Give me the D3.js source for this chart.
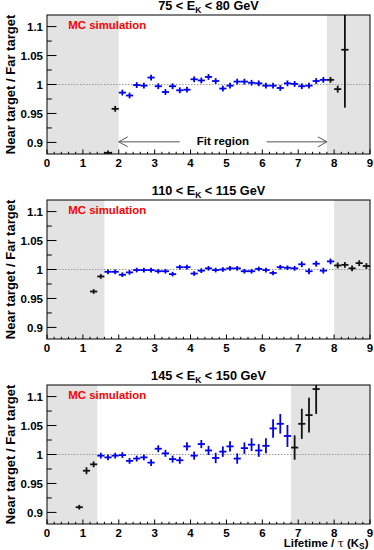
<!DOCTYPE html>
<html><head><meta charset="utf-8">
<script src="https://cdn.jsdelivr.net/npm/d3@7"></script>
<style>body{margin:0;background:#fff}svg{display:block}</style>
</head><body>
<script>
// ---------- data ----------
const xTicks = [0,1,2,3,4,5,6,7,8,9];
const yTicks = [0.9,0.95,1,1.05,1.1];
const yTickLabels = ["0.9","0.95","1","1.05","1.1"];
const eLow = [75,110,145];
const eHigh = [80,115,150];
const fitLo = [2.0,1.6,1.4];
const fitHi = [7.8,8.0,6.8];

const p1X = [1.7,1.9,2.1,2.3,2.5,2.7,2.9,3.1,3.3,3.5,3.7,3.9,4.1,4.3,4.5,4.7,4.9,5.1,5.3,5.5,5.7,5.9,6.1,6.3,6.5,6.7,6.9,7.1,7.3,7.5,7.7,7.9,8.1,8.3];
const p1Y = [0.882,0.958,0.986,0.981,0.999,0.998,1.012,0.997,0.987,0.997,0.990,0.991,1.009,1.007,1.013,1.006,0.993,0.998,1.005,1.005,1.003,1.002,0.998,0.998,0.994,1.002,1.001,0.997,0.998,1.006,1.008,1.008,0.992,1.060];
const p1E = [0.004,0.005,0.005,0.005,0.005,0.005,0.005,0.005,0.005,0.005,0.005,0.005,0.005,0.005,0.005,0.005,0.005,0.005,0.005,0.005,0.005,0.005,0.005,0.005,0.005,0.005,0.005,0.005,0.005,0.005,0.005,0.005,0.006,0.100];

const p2X = [1.3,1.5,1.7,1.9,2.1,2.3,2.5,2.7,2.9,3.1,3.3,3.5,3.7,3.9,4.1,4.3,4.5,4.7,4.9,5.1,5.3,5.5,5.7,5.9,6.1,6.3,6.5,6.7,6.9,7.1,7.3,7.5,7.7,7.9,8.1,8.3,8.5,8.7,8.9];
const p2Y = [0.962,0.988,0.996,0.996,0.991,0.995,0.999,0.999,0.999,0.997,0.997,0.992,1.004,1.004,0.993,0.998,1.002,0.999,1.000,1.002,1.002,0.997,0.997,1.001,0.999,0.994,1.004,1.003,1.002,1.009,0.997,1.010,0.998,1.014,1.007,1.008,1.002,1.011,1.006];
const p2E = [0.004,0.004,0.004,0.004,0.004,0.004,0.004,0.004,0.004,0.004,0.004,0.004,0.004,0.004,0.004,0.004,0.004,0.004,0.004,0.004,0.004,0.004,0.004,0.004,0.004,0.004,0.004,0.004,0.004,0.005,0.005,0.005,0.005,0.005,0.005,0.005,0.005,0.005,0.005];

const p3X = [0.9,1.1,1.3,1.5,1.7,1.9,2.1,2.3,2.5,2.7,2.9,3.1,3.3,3.5,3.7,3.9,4.1,4.3,4.5,4.7,4.9,5.1,5.3,5.5,5.7,5.9,6.1,6.3,6.5,6.7,6.9,7.1,7.3,7.5];
const p3Y = [0.909,0.972,0.983,0.998,0.995,0.998,0.999,0.989,0.993,0.995,0.986,1.010,1.002,0.992,0.990,1.014,0.998,1.018,1.007,0.994,1.005,1.014,0.993,1.011,1.017,1.007,1.015,1.045,1.053,1.032,1.012,1.053,1.068,1.113];
const p3E = [0.004,0.006,0.005,0.005,0.005,0.005,0.005,0.005,0.005,0.005,0.006,0.006,0.006,0.006,0.006,0.007,0.007,0.007,0.008,0.009,0.009,0.009,0.009,0.010,0.011,0.011,0.013,0.016,0.017,0.019,0.021,0.026,0.030,0.043];

const panelsX = [p1X,p2X,p3X];
const panelsY = [p1Y,p2Y,p3Y];
const panelsE = [p1E,p2E,p3E];
const binHalf = 0.1;

// ---------- layout ----------
const W = 374, H = 550;
const FL = 47, FR = 370, FH = 139;
const tops = [15,200,385];
const FONT = "'Liberation Sans', Arial, Helvetica, sans-serif";

const svg = d3.select("body").append("svg").attr("width",W).attr("height",H)
  .style("font-family",FONT);

const x = d3.scaleLinear().domain([0,9]).range([FL,FR]);

tops.forEach((top,i)=>{
  const y = d3.scaleLinear().domain([0.88,1.12]).range([top+FH, top]);
  const g = svg.append("g");
  const clipId = "clip"+i;
  g.append("clipPath").attr("id",clipId).append("rect")
    .attr("x",FL).attr("y",top).attr("width",FR-FL).attr("height",FH);

  // shaded regions
  [[0,fitLo[i]],[fitHi[i],9]].forEach(r=>{
    g.append("rect").attr("x",x(r[0])).attr("y",top)
      .attr("width",x(r[1])-x(r[0])).attr("height",FH)
      .attr("fill","#e3e3e3");
  });

  // dotted reference line
  g.append("line").attr("x1",x(0)).attr("x2",x(9)).attr("y1",y(1)).attr("y2",y(1))
    .attr("stroke","#999").attr("stroke-width",1).attr("stroke-dasharray","1.5,1.5");

  // points
  const data = panelsX[i].map((xv,k)=>({x:xv,y:panelsY[i][k],e:panelsE[i][k]}));
  const pts = g.append("g").attr("clip-path",`url(#${clipId})`);
  const col = d => (d.x>fitLo[i] && d.x<fitHi[i]) ? "#0000ee" : "#111";
  pts.selectAll("line.h").data(data).enter().append("line")
    .attr("x1",d=>x(d.x-binHalf)).attr("x2",d=>x(d.x+binHalf))
    .attr("y1",d=>y(d.y)).attr("y2",d=>y(d.y))
    .attr("stroke",col).attr("stroke-width",1.8);
  pts.selectAll("line.v").data(data).enter().append("line")
    .attr("x1",d=>x(d.x)).attr("x2",d=>x(d.x))
    .attr("y1",d=>y(d.y-d.e)).attr("y2",d=>y(d.y+d.e))
    .attr("stroke",col).attr("stroke-width",1.8);

  // frame
  g.append("rect").attr("x",FL).attr("y",top).attr("width",FR-FL).attr("height",FH)
    .attr("fill","none").attr("stroke","#000").attr("stroke-width",1);

  // y axis ticks (inward)
  const yMinor = d3.range(0.875,1.1201,0.025).filter(v=>v>=0.88-1e-9);
  yMinor.forEach(v=>{
    const major = yTicks.some(t=>Math.abs(t-v)<1e-6);
    g.append("line").attr("x1",FL).attr("x2",FL+(major?9.5:4.8))
      .attr("y1",y(v)).attr("y2",y(v)).attr("stroke","#000").attr("stroke-width",1);
  });
  g.selectAll("text.yt").data(yTicks).enter().append("text")
    .attr("x",43).attr("y",d=>y(d)).attr("dy","0.36em")
    .attr("text-anchor","end").attr("font-size",11.5).attr("font-weight","bold")
    .text((d,k)=>yTickLabels[k]);

  // x axis ticks
  d3.range(0,9.001,0.2).forEach(v=>{
    const major = Math.abs(v-Math.round(v))<1e-6;
    g.append("line").attr("x1",x(v)).attr("x2",x(v))
      .attr("y1",top+FH).attr("y2",top+FH-(major?4.5:2.2))
      .attr("stroke","#000").attr("stroke-width",1);
  });
  g.selectAll("text.xt").data(xTicks).enter().append("text")
    .attr("x",d=>x(d)).attr("y",top+FH+13.2)
    .attr("text-anchor","middle").attr("font-size",11.5).attr("font-weight","bold")
    .text(d=>d);

  // title
  const t = g.append("text").attr("x",(FL+FR)/2).attr("y",top-4.6)
    .attr("text-anchor","middle").attr("font-size",12.7).attr("font-weight","bold");
  t.append("tspan").text(`${eLow[i]} < E`);
  t.append("tspan").attr("font-size",8.5).attr("dy",3).text("K");
  t.append("tspan").attr("dy",-3).text(` < ${eHigh[i]} GeV`);

  // MC simulation
  g.append("text").attr("x",68.3).attr("y",top+14.3)
    .attr("font-size",11.4).attr("font-weight","bold").attr("fill","#ff0000")
    .text("MC simulation");

  // y axis title
  g.append("text").attr("transform",`translate(14.5,${top+FH/2}) rotate(-90)`)
    .attr("text-anchor","middle").attr("font-size",13).attr("font-weight","bold")
    .text("Near target / Far target");

  // fit region annotation (first panel)
  if(i===0){
    const ay = y(0.901);
    const col2 = "#555";
    g.append("line").attr("x1",x(fitLo[0])).attr("x2",x(3.7)).attr("y1",ay).attr("y2",ay)
      .attr("stroke",col2).attr("stroke-width",1);
    g.append("line").attr("x1",x(6.12)).attr("x2",x(fitHi[0])).attr("y1",ay).attr("y2",ay)
      .attr("stroke",col2).attr("stroke-width",1);
    const ax1 = x(fitLo[0]), ax2 = x(fitHi[0]);
    g.append("path").attr("d",`M${ax1+9},${ay-5}L${ax1},${ay}L${ax1+9},${ay+5}`)
      .attr("fill","none").attr("stroke",col2).attr("stroke-width",1);
    g.append("path").attr("d",`M${ax2-9},${ay-5}L${ax2},${ay}L${ax2-9},${ay+5}`)
      .attr("fill","none").attr("stroke",col2).attr("stroke-width",1);
    g.append("text").attr("x",x((fitLo[0]+fitHi[0])/2)).attr("y",ay+2.8)
      .attr("text-anchor","middle").attr("font-size",11.5).attr("font-weight","bold")
      .text("Fit region");
  }
});

// x axis title
const xt = svg.append("text").attr("x",368.5).attr("y",547.2)
  .attr("text-anchor","end").attr("font-size",11.5).attr("font-weight","bold");
xt.append("tspan").text("Lifetime / ");
xt.append("tspan").attr("font-weight","normal").attr("font-family","'DejaVu Serif', serif").text("τ");
xt.append("tspan").text(" (K");
xt.append("tspan").attr("font-size",8.3).attr("dy",1.5).text("S");
xt.append("tspan").attr("dy",-1.5).text(")");
</script>
</body></html>
